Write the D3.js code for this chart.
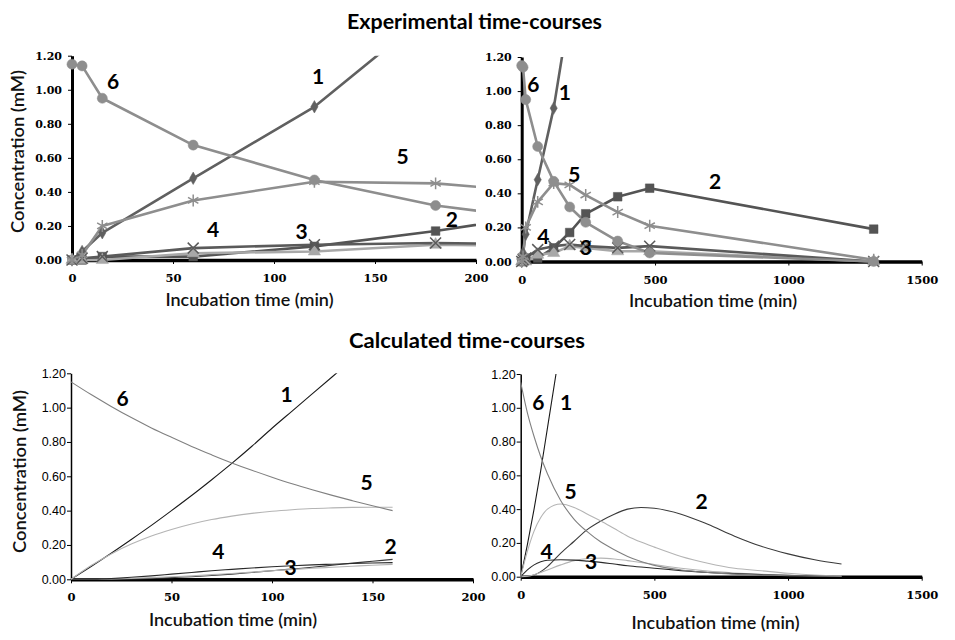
<!DOCTYPE html>
<html><head><meta charset="utf-8">
<script src="https://cdn.jsdelivr.net/npm/d3@7"></script>
<style>body{margin:0;background:#fff}svg{display:block}</style>
</head><body><svg id="c" width="955" height="640"></svg>
<script>
// ---------------- DATA ----------------
const seriesNames = ["1","2","3","4","5","6"];
const yTicks = [0,0.2,0.4,0.6,0.8,1.0,1.2];
const xTicksShort = [0,50,100,150,200];
const xTicksLong = [0,500,1000,1500];

// Experimental time-courses (mM)
const expTimes = [0,5,15,60,120,180,240,360,480,1320];
const exp1 = [0,0.05,0.16,0.48,0.90,1.48,null,null,null,null];
const exp2 = [0,0,0.02,0.02,0.08,0.17,0.28,0.38,0.43,0.19];
const exp3 = [0,0,0,0.04,0.05,0.09,0.08,0.06,0.06,0];
const exp4 = [0,0.01,0.02,0.07,0.09,0.10,0.09,0.08,0.09,0];
const exp5 = [0,0.03,0.20,0.35,0.46,0.45,0.39,0.29,0.21,0.01];
const exp6 = [1.15,1.14,0.95,0.675,0.47,0.32,0.23,0.12,0.05,0];

// Calculated time-courses, short run (0-160 min)
const calcShortT = [0,10,20,30,40,50,60,70,80,90,100,110,120,130,140,150,160];
const cs1 = [0,0.075,0.152,0.232,0.314,0.40,0.488,0.58,0.675,0.775,0.88,0.98,1.08,1.18,1.28,1.38,1.48];
const cs2 = [0,0,0,0.002,0.005,0.01,0.015,0.022,0.03,0.04,0.05,0.06,0.07,0.082,0.094,0.105,0.116];
const cs3 = [0,0,0.002,0.005,0.01,0.015,0.02,0.027,0.034,0.042,0.05,0.057,0.064,0.07,0.076,0.082,0.087];
const cs4 = [0,0,0.005,0.012,0.02,0.03,0.04,0.05,0.058,0.066,0.073,0.079,0.084,0.088,0.092,0.095,0.097];
const cs5 = [0,0.08,0.148,0.205,0.252,0.29,0.322,0.348,0.368,0.384,0.396,0.405,0.412,0.416,0.419,0.42,0.42];
const cs6 = [1.15,1.076,1.007,0.942,0.882,0.827,0.774,0.725,0.678,0.635,0.595,0.557,0.522,0.489,0.458,0.428,0.40];

// Calculated time-courses, long run (0-1200 min)
const calcLongT = [0,25,50,75,100,150,200,250,300,350,400,450,500,600,700,800,900,1000,1100,1200];
const cl1 = [0,0.19,0.40,0.63,0.88,1.38,null,null,null,null,null,null,null,null,null,null,null,null,null,null];
const cl2 = [0,0.002,0.01,0.03,0.06,0.14,0.21,0.28,0.33,0.37,0.40,0.41,0.405,0.37,0.31,0.24,0.18,0.135,0.10,0.075];
const cl3 = [0,0.003,0.012,0.025,0.04,0.07,0.095,0.108,0.11,0.105,0.095,0.085,0.072,0.05,0.033,0.022,0.014,0.009,0.006,0.004];
const cl4 = [0,0.04,0.07,0.088,0.097,0.10,0.098,0.092,0.085,0.075,0.065,0.057,0.05,0.036,0.025,0.018,0.012,0.008,0.005,0.003];
const cl5 = [0,0.15,0.27,0.35,0.40,0.43,0.41,0.37,0.33,0.285,0.24,0.205,0.175,0.12,0.08,0.05,0.035,0.02,0.01,0.005];
const cl6 = [1.15,0.97,0.83,0.71,0.61,0.45,0.34,0.265,0.205,0.16,0.12,0.09,0.067,0.04,0.025,0.015,0.01,0.006,0.004,0.002];

// Curve label anchor points (data units) per panel: [t, conc]
const labP1 = [[121.8,1.077],[188,0.235],[113.7,0.166],[69.8,0.176],[163.7,0.607],[20.4,1.047]];
const labP2 = [[162,0.987],[725,0.468],[241,0.077],[81,0.146],[197,0.508],[43.5,1.036]];
const labP3 = [[107.3,1.074],[159,0.186],[109.3,0.064],[73.3,0.161],[147.1,0.559],[25.7,1.049]];
const labP4 = [[169.5,1.027],[677,0.444],[263,0.089],[97,0.148],[187,0.503],[65.8,1.027]];

// ---------------- STYLE ----------------
const expColors = ["#606060","#545454","#a8a8a8","#5a5a5a","#8e8e8e","#8e8e8e"];
const calcColors = ["#1a1a1a","#3a3a3a","#b4b4b4","#2a2a2a","#b4b4b4","#808080"];
const symX = d3.symbolX || d3.symbolCross;
const symAst = d3.symbolAsterisk || d3.symbolCross;
const expSymbols = [
  {type:d3.symbolDiamond,size:45,fill:true},
  {type:d3.symbolSquare,size:75,fill:true},
  {type:d3.symbolTriangle,size:65,fill:true},
  {type:symX,size:80,fill:false},
  {type:symAst,size:100,fill:false},
  {type:d3.symbolCircle,size:80,fill:true}
];
const labelFont = "Lato, 'Open Sans', sans-serif";
const tickSerif = "'DejaVu Serif', 'Liberation Serif', serif";

const svg = d3.select("#c");
let clipId = 0;

function drawPanel(cfg){
  const x = d3.scaleLinear().domain(cfg.xd).range([cfg.x0,cfg.x1]);
  const y = d3.scaleLinear().domain([0,1.2]).range([cfg.y0,cfg.y1]);
  const g = svg.append("g");
  const cid = "clip"+(clipId++);
  svg.append("clipPath").attr("id",cid).append("rect")
    .attr("x",cfg.x0-8).attr("y",cfg.y1).attr("width",cfg.x1-cfg.x0+8).attr("height",cfg.y0-cfg.y1+8);

  // axes
  const ya = d3.axisLeft(y).tickValues(yTicks).tickFormat(d3.format(".2f"))
    .tickSize(cfg.yTickSize).tickSizeOuter(0).tickPadding(cfg.yPad);
  const gy = g.append("g").attr("transform",`translate(${cfg.x0},0)`).call(ya);
  gy.select(".domain").attr("stroke","#000").attr("stroke-width",cfg.yAxisW);
  gy.selectAll(".tick line").attr("stroke","#000").attr("stroke-width",1);
  gy.selectAll(".tick text").attr("fill","#000")
    .style("font-family",cfg.yFont).style("font-size",cfg.yFontSize+"px").style("font-weight",cfg.yWeight);

  const xa = d3.axisBottom(x).tickValues(cfg.xt).tickFormat(d3.format("d"))
    .tickSize(4).tickSizeOuter(0).tickPadding(10);
  const gx = g.append("g").attr("transform",`translate(0,${cfg.y0})`).call(xa);
  gx.select(".domain").attr("stroke","#000").attr("stroke-width",cfg.xAxisW);
  gx.selectAll(".tick line").attr("stroke","#000").attr("stroke-width",1);
  gx.selectAll(".tick text").attr("fill","#000")
    .style("font-family",tickSerif).style("font-size","11.5px").style("font-weight","bold");

  const plot = g.append("g");
  const lines = plot.append("g").attr("clip-path",`url(#${cid})`);

  cfg.series.forEach((vals,i)=>{
    const pts = cfg.times.map((t,k)=>({t,v:vals[k]}));
    const line = d3.line().defined(d=>d.v!=null).x(d=>x(d.t)).y(d=>y(d.v));
    if(cfg.smooth) line.curve(d3.curveMonotoneX);
    lines.append("path").datum(pts).attr("d",line).attr("fill","none")
      .attr("stroke",cfg.colors[i]).attr("stroke-width",cfg.lineW)
      .attr("stroke-linejoin","round");
    if(cfg.markers){
      const s = expSymbols[i];
      const sym = d3.symbol().type(s.type).size(s.size);
      plot.append("g").selectAll("path")
        .data(pts.filter(d=>d.v!=null && d.t<=cfg.xd[1] && d.v<=1.2))
        .join("path")
        .attr("transform",d=>`translate(${x(d.t)},${y(d.v)})`)
        .attr("d",sym)
        .attr("fill",s.fill?cfg.colors[i]:"none")
        .attr("stroke",cfg.colors[i]).attr("stroke-width",s.fill?0.5:1.5);
    }
  });

  // curve numbers
  g.append("g").selectAll("text").data(cfg.labels).join("text")
    .attr("x",d=>x(d[0])).attr("y",d=>y(d[1])+7)
    .attr("text-anchor","middle")
    .style("font-family",labelFont).style("font-weight","bold").style("font-size","21px")
    .attr("fill","#000")
    .text((d,i)=>seriesNames[i]);

  // axis title
  g.append("text").attr("x",cfg.xtX).attr("y",cfg.xtY).attr("text-anchor","middle")
    .attr("textLength",168).attr("lengthAdjust","spacingAndGlyphs")
    .style("font-family",labelFont).style("font-size","17px").style("font-weight","600").attr("fill","#111")
    .text("Incubation time (min)");
  if(cfg.ytitle){
    g.append("text").attr("transform",`translate(${cfg.ytX},${cfg.ytY}) rotate(-90)`)
      .attr("text-anchor","middle").attr("textLength",163).attr("lengthAdjust","spacingAndGlyphs")
      .style("font-family",labelFont).style("font-size","17px").style("font-weight","600").attr("fill","#111")
      .text(cfg.ytitle);
  }
}

// main titles
svg.append("text").attr("x",474.5).attr("y",29).attr("text-anchor","middle")
  .attr("textLength",255).attr("lengthAdjust","spacingAndGlyphs")
  .style("font-family",labelFont).style("font-weight","bold").style("font-size","20px")
  .text("Experimental time-courses");
svg.append("text").attr("x",467).attr("y",348).attr("text-anchor","middle")
  .attr("textLength",236).attr("lengthAdjust","spacingAndGlyphs")
  .style("font-family",labelFont).style("font-weight","bold").style("font-size","20px")
  .text("Calculated time-courses");

const expSeries = [exp1,exp2,exp3,exp4,exp5,exp6];
const shortSeries = [cs1,cs2,cs3,cs4,cs5,cs6];
const longSeries = [cl1,cl2,cl3,cl4,cl5,cl6];

drawPanel({x0:72,x1:476,y0:260,y1:55.7,xd:[0,200],xt:xTicksShort,times:expTimes,series:expSeries,
  colors:expColors,lineW:2.6,markers:true,smooth:false,labels:labP1,
  yAxisW:3,xAxisW:3.5,yTickSize:4,yPad:6,yFont:tickSerif,yFontSize:11,yWeight:"bold",
  xtX:249.5,xtY:306,ytitle:"Concentration (mM)",ytX:24,ytY:151.5});
drawPanel({x0:521.7,x1:921.7,y0:261.5,y1:57,xd:[0,1500],xt:xTicksLong,times:expTimes,series:expSeries,
  colors:expColors,lineW:2.6,markers:true,smooth:false,labels:labP2,
  yAxisW:3,xAxisW:3.5,yTickSize:4,yPad:6,yFont:tickSerif,yFontSize:11,yWeight:"bold",
  xtX:713,xtY:307,ytitle:null});
drawPanel({x0:71,x1:473,y0:579.3,y1:373.3,xd:[0,200],xt:xTicksShort,times:calcShortT,series:shortSeries,
  colors:calcColors,lineW:1.1,markers:false,smooth:true,labels:labP3,
  yAxisW:1.5,xAxisW:3.5,yTickSize:4,yPad:1,yFont:"'Liberation Sans', Arial, sans-serif",yFontSize:12.5,yWeight:"normal",
  xtX:233,xtY:626,ytitle:"Concentration  (mM)",ytX:25.5,ytY:471.5});
drawPanel({x0:520.7,x1:921.7,y0:576.7,y1:374,xd:[0,1500],xt:xTicksLong,times:calcLongT,series:longSeries,
  colors:calcColors,lineW:1.1,markers:false,smooth:true,labels:labP4,
  yAxisW:1.5,xAxisW:3.5,yTickSize:4,yPad:1,yFont:"'Liberation Sans', Arial, sans-serif",yFontSize:12.5,yWeight:"normal",
  xtX:715.5,xtY:629,ytitle:null});
</script></body></html>
